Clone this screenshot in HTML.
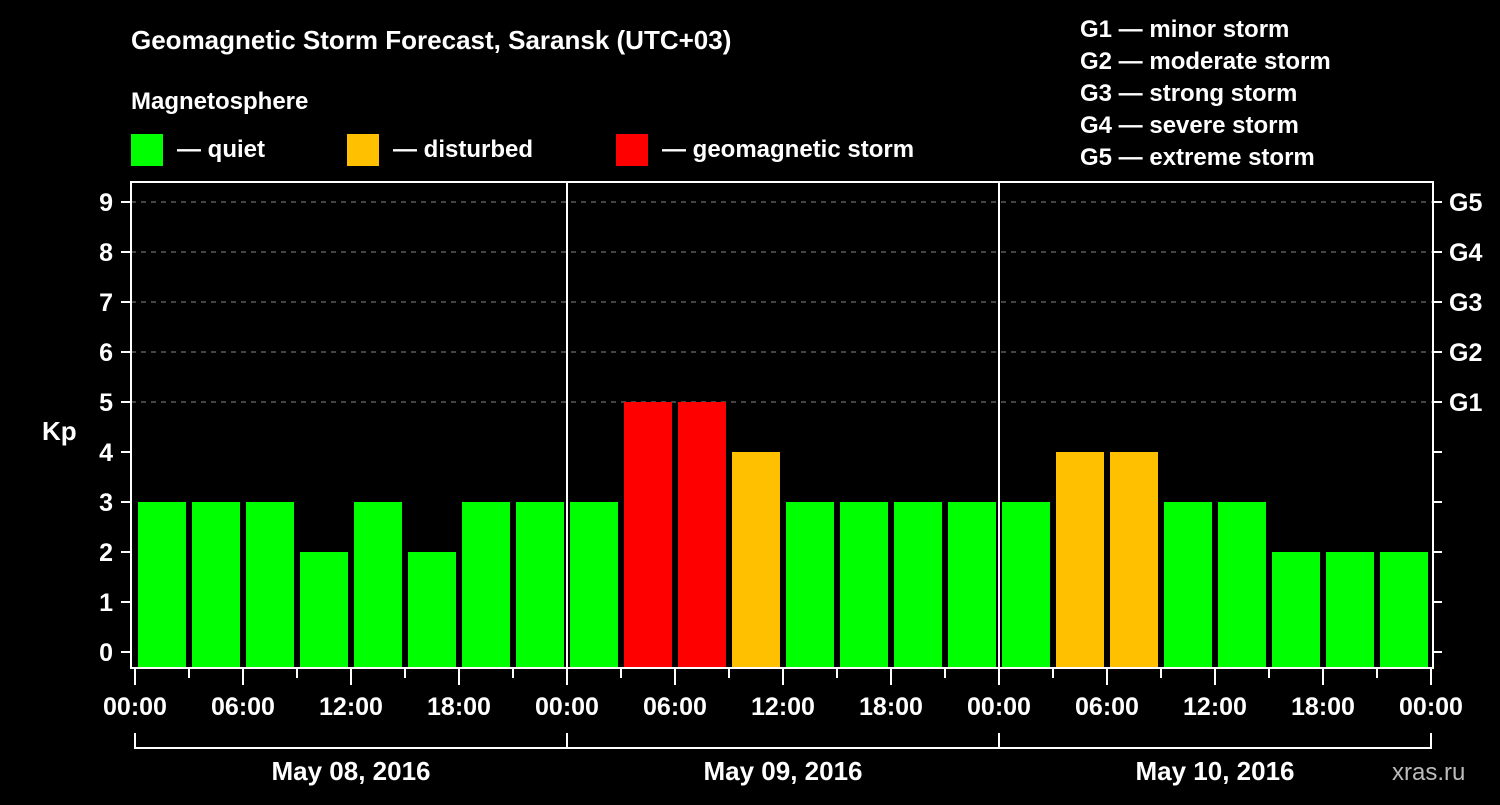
<!DOCTYPE html>
<html><head><meta charset="utf-8"><style>
body{margin:0;background:#000;width:1500px;height:800px;overflow:hidden;font-family:"Liberation Sans",sans-serif}
svg text{font-family:"Liberation Sans",sans-serif;font-weight:bold;fill:#fff}
</style></head><body>
<svg id="c" width="1500" height="800">
<text x="131" y="49" font-size="26">Geomagnetic Storm Forecast, Saransk (UTC+03)</text>
<text x="131" y="109" font-size="24">Magnetosphere</text>
<g><rect x="131" y="134" width="32" height="32" fill="#00ff00"/><text x="177" y="157" font-size="24">— quiet</text></g>
<g><rect x="347" y="134" width="32" height="32" fill="#ffc000"/><text x="393" y="157" font-size="24">— disturbed</text></g>
<g><rect x="616" y="134" width="32" height="32" fill="#ff0000"/><text x="662" y="157" font-size="24">— geomagnetic storm</text></g>
<g font-size="24">
<text x="1080" y="37">G1 — minor storm</text><text x="1080" y="69">G2 — moderate storm</text><text x="1080" y="101">G3 — strong storm</text><text x="1080" y="133">G4 — severe storm</text><text x="1080" y="165">G5 — extreme storm</text></g>
<text x="42" y="440" font-size="26">Kp</text>
<text x="1392" y="780" font-size="24" fill="#bbb" style="fill:#bbb;font-weight:normal">xras.ru</text>
<g id="plot"></g>
</svg>
<script>
const days=["May 08, 2016","May 09, 2016","May 10, 2016"];
const kpValues=[3,3,3,2,3,2,3,3, 3,5,5,4,3,3,3,3, 3,4,4,3,3,2,2,2];
const yTicks=[0,1,2,3,4,5,6,7,8,9];
const gLabels=["G1","G2","G3","G4","G5"];
const xLabels=["00:00","06:00","12:00","18:00"];
const NS="http://www.w3.org/2000/svg",g=document.getElementById('plot');
const L=131,R=1433,T=182,B=668,X0=135,slot=54;
const y=v=>652-50*v, x=i=>X0+i*slot;
function mk(t,a,txt){const e=document.createElementNS(NS,t);for(const k in a)e.setAttribute(k,a[k]);if(txt!=null)e.textContent=txt;g.appendChild(e);return e;}
const col=v=>v>=5?"#ff0000":v>=4?"#ffc000":"#00ff00";
yTicks.forEach(v=>{
 if(v>=5){const d=mk('line',{x1:L,x2:R,y1:y(v),y2:y(v),stroke:'#888','stroke-dasharray':'5,5'});}
 mk('line',{x1:121,x2:L,y1:y(v),y2:y(v),stroke:'#fff','stroke-width':2});
 mk('line',{x1:R,x2:R+9,y1:y(v),y2:y(v),stroke:'#fff','stroke-width':2});
 const t=mk('text',{x:113,y:y(v)+9,'font-size':25,'text-anchor':'end'},v);
 
});
gLabels.forEach((s,i)=>{const t=mk('text',{x:1449,y:y(5+i)+9,'font-size':25},s);});
kpValues.forEach((v,i)=>{
 const r=mk('rect',{x:x(i)+3,y:y(v),width:48,height:B-y(v),fill:col(v)});
 
});
mk('rect',{x:L,y:T,width:R-L,height:B-T,fill:'none',stroke:'#fff','stroke-width':2});
for(let d=1;d<days.length;d++)mk('line',{x1:x(d*8),x2:x(d*8),y1:T,y2:B,stroke:'#fff','stroke-width':2});
for(let i=0;i<=kpValues.length;i++){
 const major=i%2==0;
 mk('line',{x1:x(i),x2:x(i),y1:B,y2:major?685:678,stroke:'#fff','stroke-width':2});
 if(major){const t=mk('text',{x:x(i),y:715,'font-size':25,'text-anchor':'middle'},xLabels[(i/2)%4]);}
}
days.forEach((s,d)=>{
 const a=x(d*8),b=x(d*8+8);
 mk('path',{d:`M${a} 733V748H${b}V733`,fill:'none',stroke:'#fff','stroke-width':2});
 const t=mk('text',{x:(a+b)/2,y:780,'font-size':26,'text-anchor':'middle'},s);
 
});
</script>
</body></html>
